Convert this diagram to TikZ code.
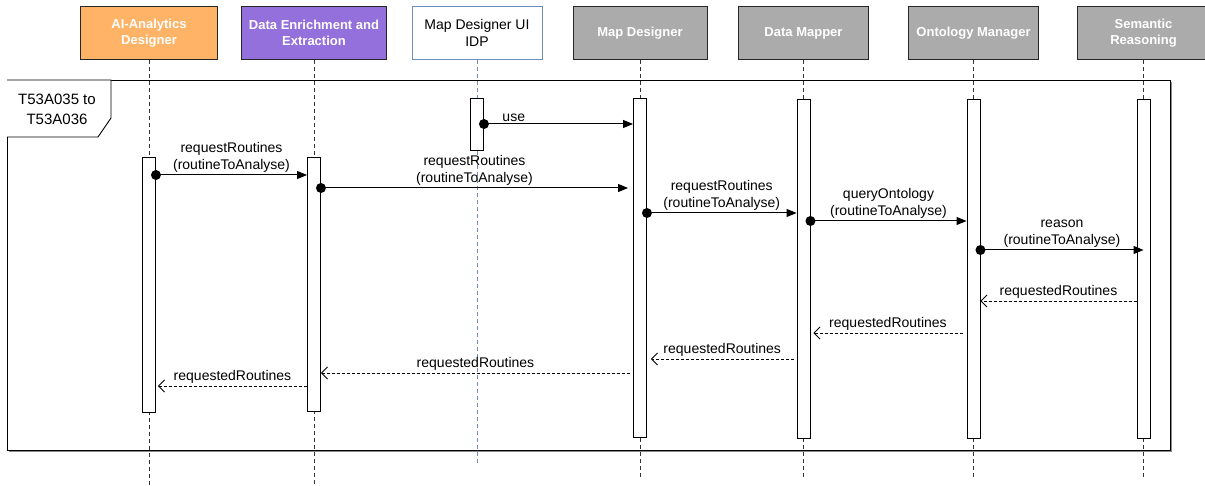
\documentclass[tikz,border=0pt]{standalone}
\usepackage{fontspec}
\setmainfont{Liberation Sans}
\usepackage{tikz}
\usetikzlibrary{arrows.meta,shadows}

\definecolor{aiorange}{HTML}{FFB366}
\definecolor{depurple}{HTML}{9370DB}
\definecolor{boxgrey}{HTML}{ABABAB}
\definecolor{uiblue}{HTML}{6C8EBF}

\begin{document}
\begin{tikzpicture}[x=1pt,y=-1pt,
  head/.style={draw=black!85, line width=1pt, minimum height=53pt, text=white, inner sep=1pt,
    font=\fontsize{13}{16}\selectfont\bfseries, align=center},
  act/.style={draw, fill=white, line width=0.9pt, minimum width=13pt, inner sep=0pt},
  lifeline/.style={black!80, line width=0.7pt, dash pattern=on 4pt off 3pt},
  call/.style={-{Triangle[length=10pt,width=8pt]}, line width=1pt},
  ret/.style={-{Straight Barb[length=6pt,width=12pt]}, line width=0.8pt, dash pattern=on 3pt off 2pt},
  msg/.style={font=\fontsize{14}{17}\selectfont, align=center, inner sep=2pt}]
\path[fill=white] (0,0) rectangle (1205,486);
\useasboundingbox (0,0) rectangle (1205,486);

% frame
\draw[fill=white, line width=0.9pt, drop shadow={shadow xshift=1.5pt, shadow yshift=-2pt, fill=black!45, opacity=1}] (7,80) rectangle (1170,450);
\draw[fill=white, line width=0.9pt] (7,80) -- (111,80) -- (111,118) -- (98,137) -- (7,137);
\node[font=\fontsize{15}{20}\selectfont, align=center] (frametitle) at (57,109) {T53A035 to\\T53A036};

% heads
\node[head, fill=aiorange, minimum width=137pt] (ai) at (149,33.5) {AI-Analytics\\Designer};
\node[head, fill=depurple, minimum width=145pt] (de) at (314,33) {Data Enrichment and\\Extraction};
\node[head, fill=white, draw=uiblue, text=black, minimum width=130pt,
  font=\fontsize{14}{17}\selectfont] (ui) at (477,33) {Map Designer UI\\IDP};
\node[head, fill=boxgrey, minimum width=134pt] (md) at (640,33) {Map Designer};
\node[head, fill=boxgrey, minimum width=130pt] (dm) at (803.5,33) {Data Mapper};
\node[head, fill=boxgrey, minimum width=130pt] (om) at (973.5,33) {Ontology Manager};
\node[head, fill=boxgrey, minimum width=132pt] (sr) at (1143.5,33) {Semantic\\Reasoning};

% lifelines
\draw[lifeline] (ai.south) -- (ai.south |- 0,486);
\draw[lifeline] (de.south) -- (de.south |- 0,486);
\draw[lifeline, uiblue] (ui.south) -- (ui.south |- 0,463);
\draw[lifeline] (md.south) -- (md.south |- 0,478);
\draw[lifeline] (dm.south) -- (dm.south |- 0,478);
\draw[lifeline] (om.south) -- (om.south |- 0,478);
\draw[lifeline] (sr.south) -- (sr.south |- 0,478);

% activations
\node[act, minimum height=255pt] (aiact) at (149,284.5) {};
\node[act, minimum height=254pt] (deact) at (314,284) {};
\node[act, minimum height=52pt] (uiact) at (477,124) {};
\node[act, minimum height=339pt] (mdact) at (640,267.5) {};
\node[act, minimum height=339pt] (dmact) at (803.5,268.5) {};
\node[act, minimum height=339pt] (omact) at (973.5,268.5) {};
\node[act, minimum height=339pt] (sract) at (1143.5,268.5) {};

% calls
\draw[call] (uiact.east |- 0,124) -- node[msg, above, pos=0.2] {use} (mdact.west |- 0,124);
\fill (uiact.east |- 0,124) circle (5pt);
\draw[call] (aiact.east |- 0,175) -- node[msg, above] {requestRoutines\\(routineToAnalyse)} (deact.west |- 0,175);
\fill (aiact.east |- 0,175) circle (5pt);
\draw[call] (deact.east |- 0,188) -- node[msg, above] {requestRoutines\\(routineToAnalyse)} ([xshift=-5pt]mdact.west |- 0,188);
\fill (deact.east |- 0,188) circle (5pt);
\draw[call] (mdact.east |- 0,213) -- node[msg, above] {requestRoutines\\(routineToAnalyse)} (dmact.west |- 0,213);
\fill (mdact.east |- 0,213) circle (5pt);
\draw[call] (dmact.east |- 0,221) -- node[msg, above] {queryOntology\\(routineToAnalyse)} (omact.west |- 0,221);
\fill (dmact.east |- 0,221) circle (5pt);
\draw[call] (omact.east |- 0,250) -- node[msg, above] {reason\\(routineToAnalyse)} (sract.center |- 0,250);
\fill (omact.east |- 0,250) circle (5pt);

% returns
\draw[ret] (sract.west |- 0,301) -- node[msg, above] {requestedRoutines} (omact.east |- 0,301);
\draw[ret] ([xshift=-4pt]omact.west |- 0,333) -- node[msg, above] {requestedRoutines} ([xshift=3pt]dmact.east |- 0,333);
\draw[ret] ([xshift=-3pt]dmact.west |- 0,359) -- node[msg, above] {requestedRoutines} ([xshift=4pt]mdact.east |- 0,359);
\draw[ret] ([xshift=-3pt]mdact.west |- 0,373) -- node[msg, above] {requestedRoutines} (deact.east |- 0,373);
\draw[ret] (deact.west |- 0,386) -- node[msg, above] {requestedRoutines} ([xshift=2pt]aiact.east |- 0,386);
\end{tikzpicture}
\end{document}
